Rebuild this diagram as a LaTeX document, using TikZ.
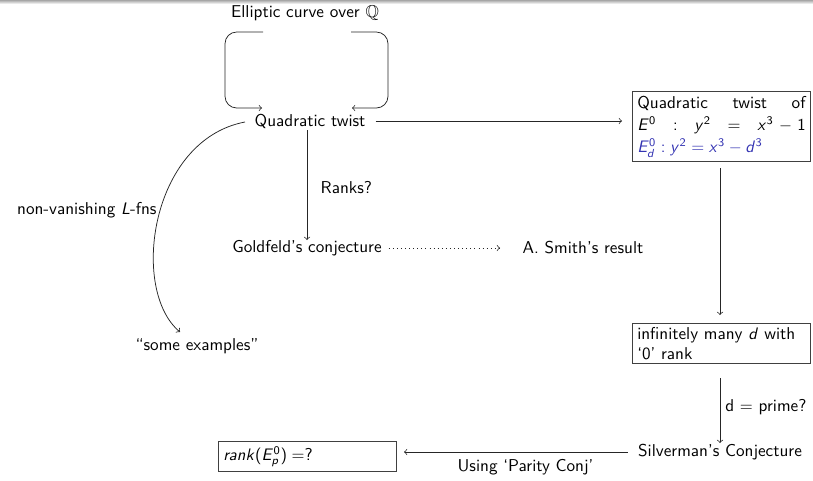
\documentclass[tikz,border=0pt]{standalone}
\usepackage{amssymb}
\SetSymbolFont{operators}{normal}{OT1}{cmss}{m}{n}
\SetSymbolFont{letters}{normal}{OT1}{cmss}{m}{sl}
\usetikzlibrary{calc}
\definecolor{sblue}{rgb}{0.2,0.2,0.7}
\begin{document}
\begin{tikzpicture}[x=0.6pt,y=-0.6pt,
  every node/.style={font=\sffamily\fontsize{10.3}{12}\selectfont, inner sep=0pt},
  lbl/.style={anchor=center},
  boxnode/.style={draw=black!75, line width=0.5pt, inner sep=2pt, text width=101pt, minimum width=178*0.6pt, align=justify},
  arr/.style={->, line width=0.45pt, draw=black!85}]
\useasboundingbox (0,0) rectangle (813,480);
\shade[top color=black!35, bottom color=white] (0,0) rectangle (813,4);

\node[lbl] (ell) at (305,13) {Elliptic curve over $\mathbb{Q}$};
\node[lbl] (qt) at (310,121) {Quadratic twist};
\node[lbl] (gold) at (307,248) {Goldfeld's conjecture};
\node[lbl] (smith) at (583,248) {A. Smith's result};
\node[lbl] (some) at (197,346) {``some examples''};
\node[lbl] (silv) at (720,452) {Silverman's Conjecture};

\node[boxnode, anchor=north west, font=\sffamily\fontsize{10.3}{13.4}\selectfont, inner ysep=2.6pt] (b1) at (632,91) {Quadratic twist of\linebreak $E^0\ :\ y^2\ =\ x^3-1$\linebreak \textcolor{sblue}{$E^0_d: y^2=x^3-d^3$}};
\node[boxnode, anchor=north west, align=left, inner ysep=2.4pt] (b2) at (632,323) {infinitely many $d$ with\\ `0' rank};
\node[boxnode, anchor=north west, align=left, minimum height=30*0.6pt] (b3) at (218,441) {$rank(E_p^0)=$?};

\coordinate (l1) at (263,32);
\coordinate (l2) at (262,108);
\coordinate (r1) at (351,32);
\coordinate (r2) at (352,108);
\draw[arr, rounded corners=7pt] (l1) -- (225,32) -- (225,108) -- (l2);
\draw[arr, rounded corners=7pt] (r1) -- (388,32) -- (388,108) -- (r2);

\draw[arr, shorten <=6pt, shorten >=6pt] (qt.east) -- (qt.east -| b1.west);
\draw[arr] (307,130) -- node[right=8pt, pos=0.52] (ranks) {Ranks?} (307,240);
\draw[arr, dotted, shorten <=4pt] (gold.east) -- (500,248);
\draw[arr] (245,122) .. controls (150,140) and (130,290) .. (180,332)
  node[pos=0.47, anchor=east, xshift=-2pt] (nv) {non-vanishing $L$-fns};
\draw[arr] (720,168) -- (720,315);
\draw[arr] (720,378) -- node[right=3pt, pos=0.45] (dp) {d $=$ prime?} (720,443);
\draw[arr, shorten <=6pt] (silv.west) -- (404,452) node[pos=0.48, below=4pt] (par) {Using `Parity Conj'};
\end{tikzpicture}
\end{document}
